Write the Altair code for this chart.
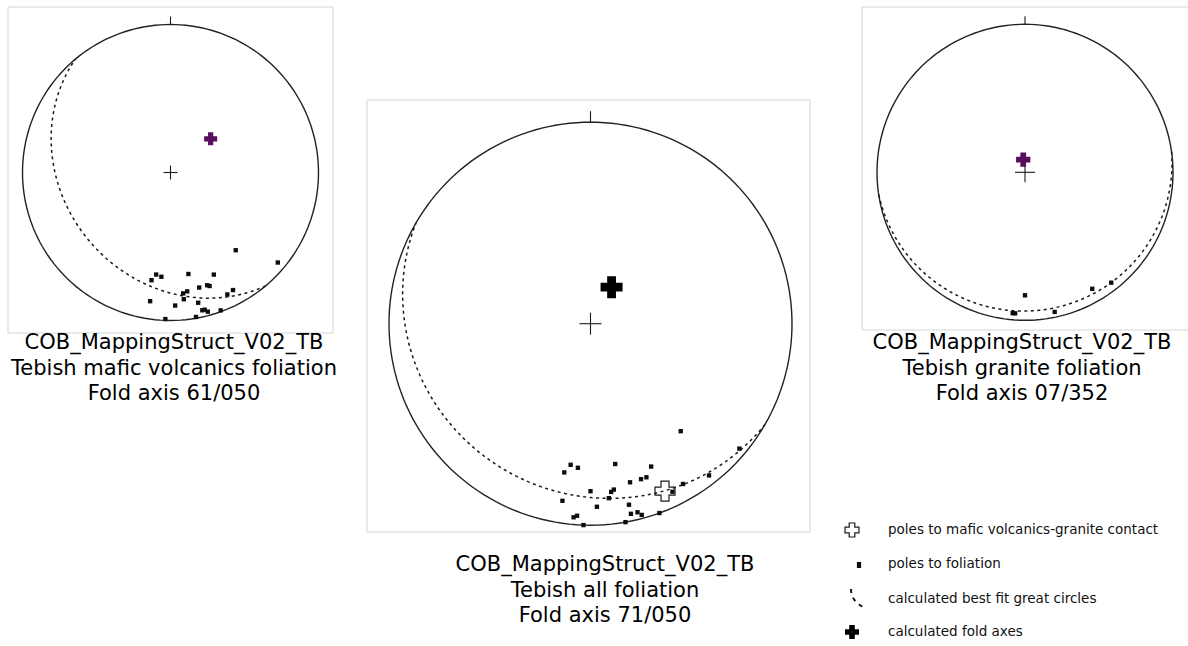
import math

import altair as alt
import pandas as pd

# ---------------------------------------------------------------------------
# Orientation data (lower-hemisphere, trend / plunge in degrees)
# ---------------------------------------------------------------------------
# poles to foliation, mafic volcanics
mafic_trend = [140, 130, 188, 185, 170, 157, 190, 166, 162, 161, 172, 174,
               174, 155, 152, 189, 178, 168, 167, 166, 165, 160, 170, 182]
mafic_plunge = [32, 6, 31, 30, 31, 26, 27, 21, 21, 20, 20, 19,
                15, 10, 11, 13, 11, 11, 5, 5, 3, 1, 1, 1]

# poles to foliation, all lithologies
all_trend = [140, 130, 188, 185, 170, 157, 190, 142, 150, 166, 162, 160,
             180, 172, 173, 174, 154, 189, 178, 168, 168, 166, 165, 185,
             184, 160, 182, 170]
all_plunge = [31, 4, 30, 29, 30, 24, 26, 5, 9, 20, 20, 20,
              18, 18, 17, 14, 8, 12, 10, 9, 4, 4, 2, 4,
              5, 0, 0, 0]

# poles to foliation, granite
granite_trend = [180, 185, 184, 168, 150, 142]
granite_plunge = [18, 5, 5, 4, 10, 6]

# pole to the mafic volcanics - granite contact
contact_trend = [156]
contact_plunge = [10]

# calculated fold axes (one per net)
fold_trend = [50, 30, 352]
fold_plunge = [61, 73, 83]

titles = [
    ["COB_MappingStruct_V02_TB", "Tebish  mafic volcanics foliation", "Fold axis 61/050"],
    ["COB_MappingStruct_V02_TB", "Tebish  all foliation", "Fold axis 71/050"],
    ["COB_MappingStruct_V02_TB", "Tebish  granite foliation", "Fold axis 07/352"],
]

legend_labels = [
    "poles to mafic volcanics-granite contact",
    "poles to foliation",
    "calculated best fit great circles",
    "calculated fold axes",
]

# ---------------------------------------------------------------------------
# Page layout (pixels) for the three Schmidt nets
# ---------------------------------------------------------------------------
W, H = 1188, 646
FONT = "DejaVu Sans"
PURPLE = "#5a0f5e"

nets = [
    dict(cx=170.5, cy=172.5, R=148.0, tick=8, cross=7, fold_size=170, fold_color=PURPLE,
         frame=(8, 7, 333, 333), tx=174, ty=343,
         poles=(mafic_trend, mafic_plunge)),
    dict(cx=590.5, cy=323.7, R=201.5, tick=11, cross=11, fold_size=484, fold_color="black",
         frame=(367, 100, 810, 532), tx=605, ty=565,
         poles=(all_trend, all_plunge)),
    dict(cx=1025.0, cy=172.3, R=148.0, tick=8, cross=10, fold_size=205, fold_color=PURPLE,
         frame=(862, 7, 1192, 330), tx=1022, ty=343,
         poles=(granite_trend, granite_plunge)),
]
LINE_GAP = 25.5

SQ2 = math.sqrt(2.0)


def project(net, trend, plunge):
    """Equal-area (Schmidt) lower-hemisphere projection onto the page."""
    r = SQ2 * math.sin(math.radians(90.0 - plunge) / 2.0)
    t = math.radians(trend)
    return net["cx"] + net["R"] * r * math.sin(t), net["cy"] - net["R"] * r * math.cos(t)


def girdle_rows(net, key, ta, pa):
    """Great circle normal to a fold axis (trend ta, plunge pa)."""
    t, p = math.radians(ta), math.radians(pa)
    s = (-math.sin(t), math.cos(t), 0.0)
    d = (-math.sin(p) * math.cos(t), -math.sin(p) * math.sin(t), math.cos(p))
    rows = []
    for k in range(0, 181):
        th = math.radians(k)
        n = math.cos(th) * s[0] + math.sin(th) * d[0]
        e = math.cos(th) * s[1] + math.sin(th) * d[1]
        dn = math.cos(th) * s[2] + math.sin(th) * d[2]
        pl = math.degrees(math.asin(max(-1.0, min(1.0, dn))))
        tr = math.degrees(math.atan2(e, n))
        x, y = project(net, tr, pl)
        rows.append(dict(key=key, i=k, x=x, y=y))
    return rows


prim, girdles, rules, frames, poles, folds, texts = [], [], [], [], [], [], []
for j, net in enumerate(nets):
    cx, cy, R = net["cx"], net["cy"], net["R"]
    for k in range(0, 361, 2):
        a = math.radians(k)
        prim.append(dict(key=j, i=k, x=cx + R * math.sin(a), y=cy - R * math.cos(a)))
    girdles += girdle_rows(net, j, fold_trend[j], fold_plunge[j])
    # north tick and centre cross
    rules.append(dict(x=cx, y=cy - R - net["tick"], x2=cx, y2=cy - R))
    rules.append(dict(x=cx - net["cross"], y=cy, x2=cx + net["cross"], y2=cy))
    rules.append(dict(x=cx, y=cy - net["cross"], x2=cx, y2=cy + net["cross"]))
    x0, y0, x1, y1 = net["frame"]
    frames.append(dict(x=x0, y=y0, x2=x1, y2=y1))
    for tr, pl in zip(*net["poles"]):
        px, py = project(net, tr, pl)
        poles.append(dict(x=px, y=py))
    fx, fy = project(net, fold_trend[j], fold_plunge[j])
    folds.append(dict(x=fx, y=fy, size=net["fold_size"], color=net["fold_color"]))
    for n, line in enumerate(titles[j]):
        texts.append(dict(x=net["tx"], y=net["ty"] + n * LINE_GAP, text=line))

contacts = []
for tr, pl in zip(contact_trend, contact_plunge):
    px, py = project(nets[1], tr, pl)
    contacts.append(dict(x=px, y=py, size=400))

# legend block
LX_SYM, LX_TXT = 852, 888
LEG_Y = [530, 564, 599, 632]
legend_text = [dict(x=LX_TXT, y=yy, text=t) for yy, t in zip(LEG_Y, legend_labels)]
contacts.append(dict(x=LX_SYM, y=LEG_Y[0], size=196))
legend_square = [dict(x=LX_SYM + 7, y=LEG_Y[1] + 1)]
legend_arc = []
for k in range(0, 71, 2):
    a = math.radians(k)
    legend_arc.append(dict(key=9, i=k, x=LX_SYM + 18 - 19 * math.cos(a),
                           y=LEG_Y[2] - 10 + 19 * math.sin(a)))
folds.append(dict(x=LX_SYM, y=LEG_Y[3], size=196, color="black"))

# ---------------------------------------------------------------------------
# Chart
# ---------------------------------------------------------------------------
xs = alt.Scale(domain=[0, W], nice=False, zero=False)
ys = alt.Scale(domain=[0, H], nice=False, zero=False, reverse=True)
X = alt.X("x:Q", scale=xs, axis=None)
Y = alt.Y("y:Q", scale=ys, axis=None)

frame_layer = alt.Chart(pd.DataFrame(frames)).mark_rect(
    fill="white", fillOpacity=0, stroke="#d6d6d6", strokeWidth=1
).encode(x=X, y=Y, x2="x2:Q", y2="y2:Q")

prim_layer = alt.Chart(pd.DataFrame(prim)).mark_line(
    color="#222222", strokeWidth=1.4
).encode(x=X, y=Y, detail="key:N", order="i:Q")

girdle_layer = alt.Chart(pd.DataFrame(girdles)).mark_line(
    color="#1a1a1a", strokeWidth=1.5, strokeDash=[3, 3.5]
).encode(x=X, y=Y, detail="key:N", order="i:Q")

legend_arc_layer = alt.Chart(pd.DataFrame(legend_arc)).mark_line(
    color="#111111", strokeWidth=2, strokeDash=[4, 5]
).encode(x=X, y=Y, detail="key:N", order="i:Q")

rule_layer = alt.Chart(pd.DataFrame(rules)).mark_rule(
    color="#1a1a1a", strokeWidth=1.1
).encode(x=X, y=Y, x2="x2:Q", y2="y2:Q")

pole_layer = alt.Chart(pd.DataFrame(poles)).mark_point(
    shape="square", filled=True, size=19, color="#0d0d0d", opacity=1
).encode(x=X, y=Y)

legend_square_layer = alt.Chart(pd.DataFrame(legend_square)).mark_point(
    shape="M-0.7,-1H0.7V1H-0.7Z", filled=True, size=36, color="#0d0d0d", opacity=1
).encode(x=X, y=Y)

contact_layer = alt.Chart(pd.DataFrame(contacts)).mark_point(
    shape="cross", filled=False, color="#1a1a1a", strokeWidth=1.2, opacity=1
).encode(x=X, y=Y, size=alt.Size("size:Q", scale=None, legend=None))

fold_layer = alt.Chart(pd.DataFrame(folds)).mark_point(
    shape="cross", filled=True, opacity=1
).encode(
    x=X, y=Y,
    size=alt.Size("size:Q", scale=None, legend=None),
    color=alt.Color("color:N", scale=None, legend=None),
)

title_layer = alt.Chart(pd.DataFrame(texts)).mark_text(
    font=FONT, fontSize=21, color="black", align="center", baseline="middle"
).encode(x=X, y=Y, text="text:N")

legend_layer = alt.Chart(pd.DataFrame(legend_text)).mark_text(
    font=FONT, fontSize=13.5, color="#111111", align="left", baseline="middle"
).encode(x=X, y=Y, text="text:N")

chart = alt.layer(
    frame_layer, prim_layer, girdle_layer, legend_arc_layer, rule_layer,
    pole_layer, legend_square_layer, contact_layer, fold_layer,
    title_layer, legend_layer
).properties(
    width=W, height=H, padding=0, autosize=alt.AutoSizeParams(type="none"),
    background="white",
).configure_view(stroke="transparent")

chart.save("out.html", embed_options={"renderer": "svg", "actions": False})
